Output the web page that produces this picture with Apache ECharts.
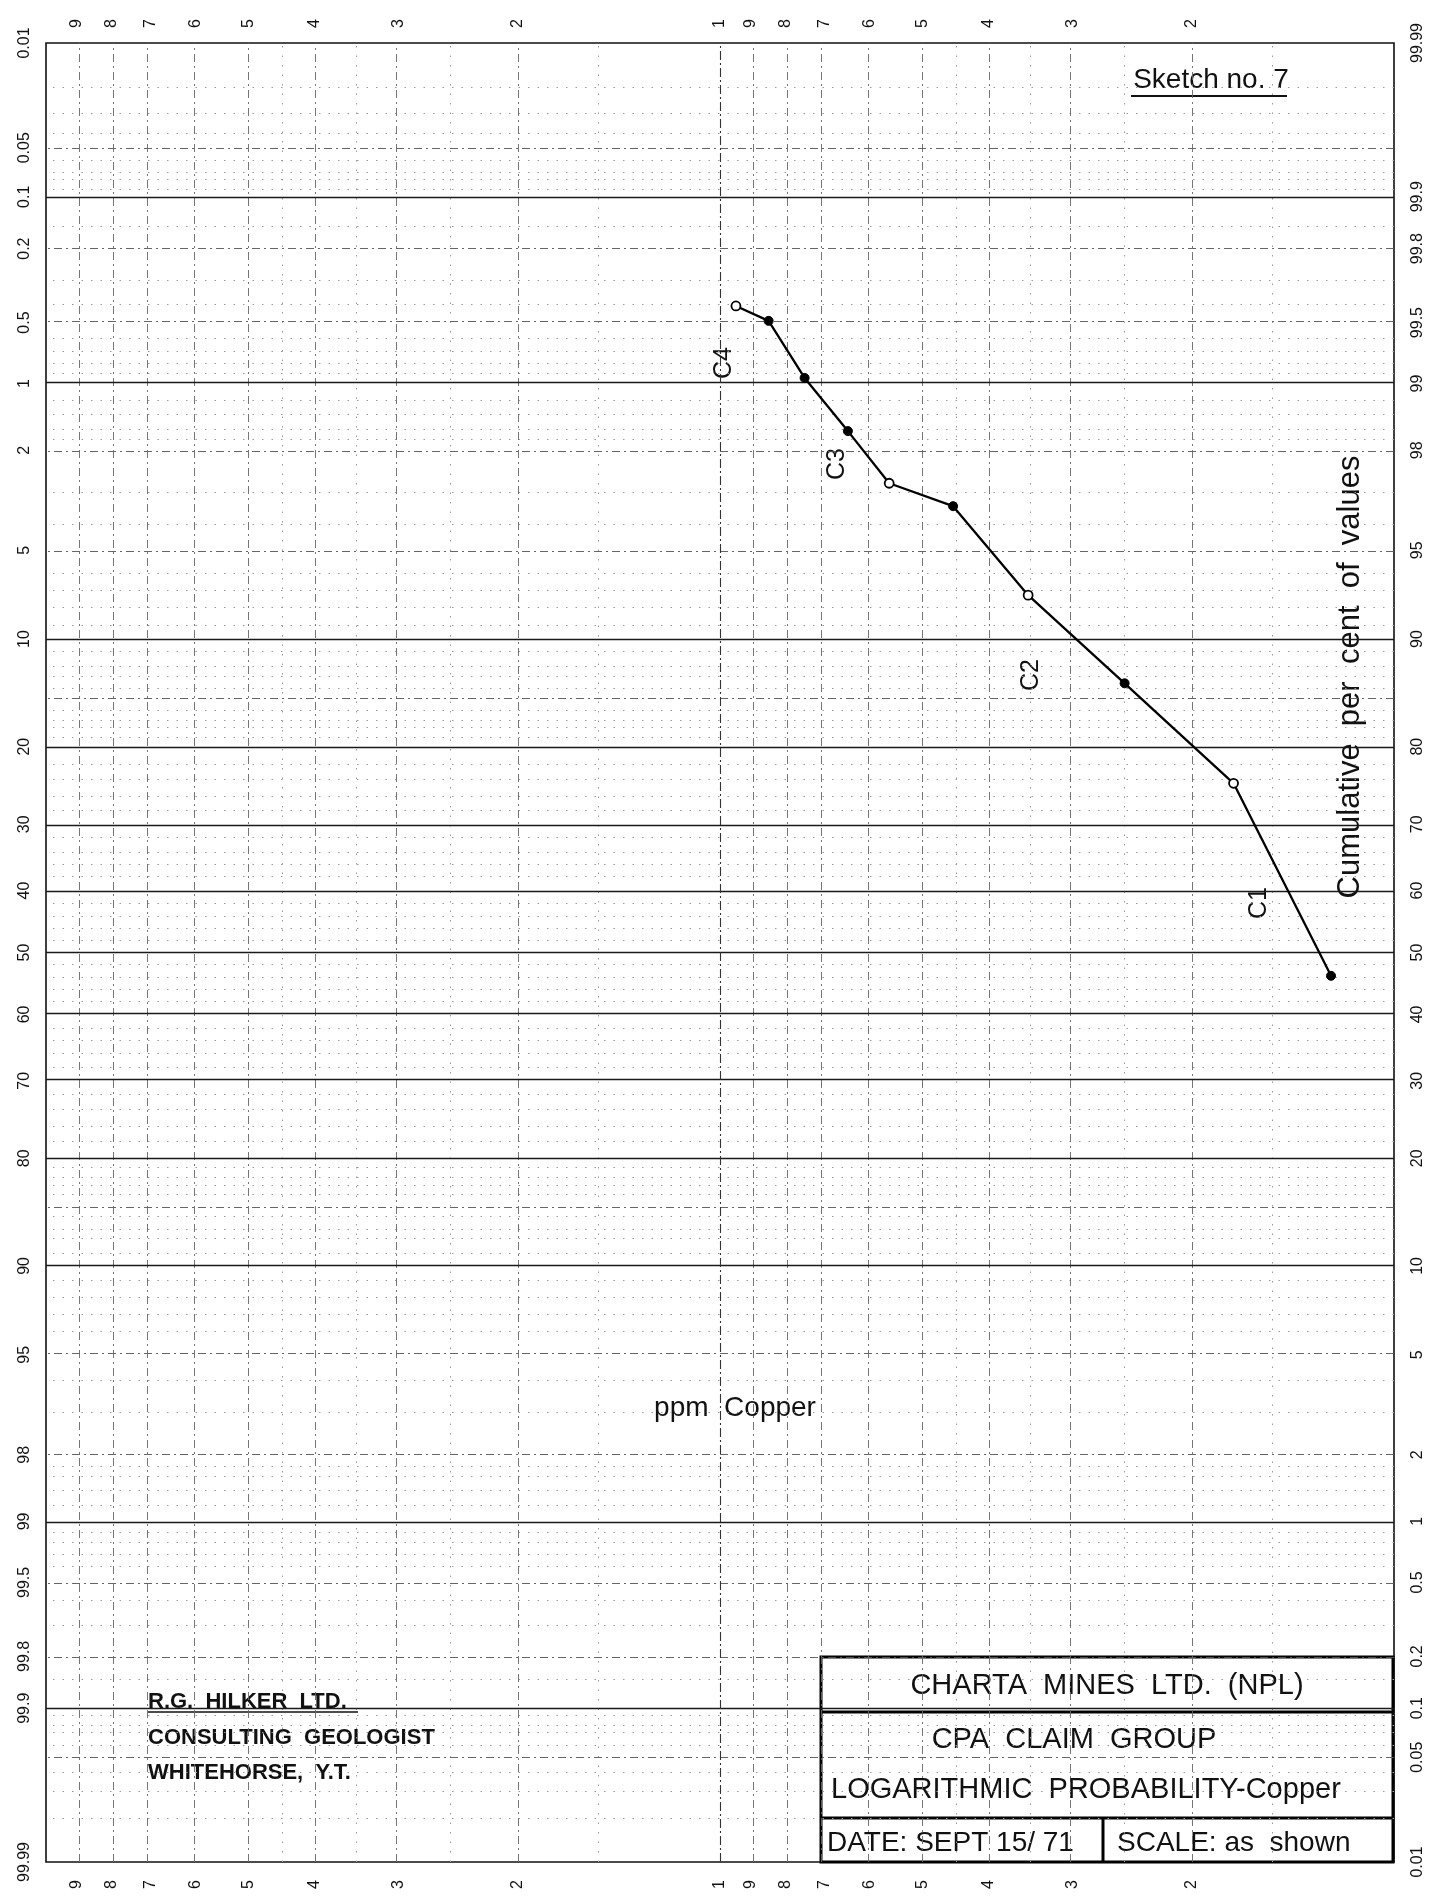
<!DOCTYPE html>
<html>
<head>
<meta charset="utf-8">
<script src="https://cdn.jsdelivr.net/npm/echarts@6/dist/echarts.min.js"></script>
<style>html,body{margin:0;padding:0;background:#fff}#c{width:1445px;height:1899px}</style>
</head>
<body>
<div id="c"></div>
<script>
// ---------------- DATA ----------------
// ppm Copper (log scale, two cycles 10 - 1000, decreasing to the right)
const ppm = [94.7, 84.7, 74.9, 64.6, 56.1, 45.1, 34.9, 25.1, 17.3, 12.4];
// Cumulative per cent of values (right-hand scale)
const cumPct = [99.59, 99.51, 99.06, 98.35, 97.25, 96.6, 92.8, 86.45, 75.55, 46.2];
// points drawn hollow
const hollowPoints = [0, 4, 6, 8];

// tick labels
const xTickValues = [900, 800, 700, 600, 500, 400, 300, 200, 100, 90, 80, 70, 60, 50, 40, 30, 20];
const yLeftLabels = [0.01, 0.05, 0.1, 0.2, 0.5, 1, 2, 5, 10, 20, 30, 40, 50, 60, 70, 80, 90, 95, 98, 99, 99.5, 99.8, 99.9, 99.99];
const yRightLabels = [99.99, 99.9, 99.8, 99.5, 99, 98, 95, 90, 80, 70, 60, 50, 40, 30, 20, 10, 5, 2, 1, 0.5, 0.2, 0.1, 0.05, 0.01];

// grid rulings (left-hand scale per cent, ppm)
const hSolid = [0.1, 1, 10, 20, 30, 40, 50, 60, 70, 80, 90, 99, 99.9];
const hDashDot = [0.05, 0.2, 0.5, 2, 5, 15, 85, 95, 98, 99.5, 99.8, 99.95];
const hDotted = [0.02, 0.03, 0.04, 0.06, 0.07, 0.08, 0.09, 0.15, 0.3, 0.4, 0.6, 0.7, 0.8, 0.9, 1.2, 1.4, 1.6, 1.8, 3, 4, 6, 7, 8, 9,
  11, 12, 13, 14, 16, 17, 18, 19, 22, 24, 26, 28, 32, 34, 36, 38, 42, 44, 46, 48, 52, 54, 56, 58, 62, 64, 66, 68, 72, 74, 76, 78,
  81, 82, 83, 84, 86, 87, 88, 89, 91, 92, 93, 94, 96, 97, 98.2, 98.4, 98.6, 98.8, 99.1, 99.2, 99.3, 99.4, 99.6, 99.7, 99.85,
  99.91, 99.92, 99.93, 99.94, 99.96, 99.97, 99.98];
const vMain = [100];
const vDashDot = [900, 800, 700, 600, 500, 400, 300, 200, 90, 80, 70, 60, 50, 40, 30, 20];
const vDotted = [450, 350, 250, 150, 45, 35, 25, 15];

// ---------------- helpers ----------------
function probit(p) {
  const a = [-3.969683028665376e+01, 2.209460984245205e+02, -2.759285104469687e+02, 1.383577518672690e+02, -3.066479806614716e+01, 2.506628277459239e+00];
  const b = [-5.447609879822406e+01, 1.615858368580409e+02, -1.556989798598866e+02, 6.680131188771972e+01, -1.328068155288572e+01];
  const c = [-7.784894002430293e-03, -3.223964580411365e-01, -2.400758277161838e+00, -2.549732539343734e+00, 4.374664141464968e+00, 2.938163982698783e+00];
  const d = [7.784695709041462e-03, 3.224671290700398e-01, 2.445134137142996e+00, 3.754408661907416e+00];
  const pl = 0.02425;
  if (p < pl) {
    const q = Math.sqrt(-2 * Math.log(p));
    return (((((c[0] * q + c[1]) * q + c[2]) * q + c[3]) * q + c[4]) * q + c[5]) / ((((d[0] * q + d[1]) * q + d[2]) * q + d[3]) * q + 1);
  }
  const q = p - 0.5, r = q * q;
  return (((((a[0] * r + a[1]) * r + a[2]) * r + a[3]) * r + a[4]) * r + a[5]) * q / (((((b[0] * r + b[1]) * r + b[2]) * r + b[3]) * r + b[4]) * r + 1);
}
// z for a "right-hand" per cent (upwards positive)
function zR(P) {
  if (P <= 50) return probit(P / 100);
  const comp = Math.round((100 - P) * 1e6) / 1e6;
  return -probit(comp / 100);
}
const ZMAX = -probit(0.0001);
function clampZ(z) { return Math.max(-ZMAX, Math.min(ZMAX, z)); }
const zLeft = p => clampZ(-zR(p));      // left-hand per cent (from top)
const zRight = P => clampZ(zR(P));
const lg = v => Math.log10(v);

const FONT = "'Liberation Sans', Arial, sans-serif";
const leftZ = yLeftLabels.map(zLeft);
const rightZ = yRightLabels.map(zRight);
const xVals = xTickValues.map(lg);

function digit(v) {
  const val = Math.pow(10, v);
  return String(Math.round(val / Math.pow(10, Math.floor(v + 1e-9))));
}
function lookup(zs, labels) {
  return function (v) {
    for (let i = 0; i < zs.length; i++) if (Math.abs(zs[i] - v) < 1e-6) return String(labels[i]);
    return '';
  };
}

const solidStyle = { color: '#1a1a1a', width: 1.3, type: 'solid' };
const dashDotStyle = { color: '#555', width: 0.9, type: [8, 4, 2, 4] };
const dottedStyle = { color: '#9a9a9a', width: 1, type: [1.5, 8] };
const vDashStyle = { color: '#666', width: 0.9, type: [8, 4, 2, 4] };
const mainVStyle = { color: '#333', width: 1.1, type: [9, 3, 2, 3] };

const gridLines = []
  .concat(hDotted.map(p => ({ yAxis: zLeft(p), lineStyle: dottedStyle })))
  .concat(vDotted.map(v => ({ xAxis: lg(v), lineStyle: dottedStyle })))
  .concat(hDashDot.map(p => ({ yAxis: zLeft(p), lineStyle: dashDotStyle })))
  .concat(vDashDot.map(v => ({ xAxis: lg(v), lineStyle: vDashStyle })))
  .concat(hSolid.map(p => ({ yAxis: zLeft(p), lineStyle: solidStyle })))
  .concat(vMain.map(v => ({ xAxis: lg(v), lineStyle: mainVStyle })));

const points = ppm.map((v, i) => {
  const item = { value: [lg(v), zRight(cumPct[i])] };
  if (hollowPoints.indexOf(i) >= 0) item.itemStyle = { color: '#fff', borderColor: '#000', borderWidth: 1.8 };
  return item;
});

const axisLabelBase = { rotate: 90, fontSize: 16, color: '#111', fontFamily: FONT };
const xAxisBase = {
  type: 'value', min: 1, max: 3, inverse: true,
  axisLine: { show: false }, axisTick: { show: false }, splitLine: { show: false }
};
const yAxisBase = {
  type: 'value', min: -ZMAX, max: ZMAX,
  axisLine: { show: false }, axisTick: { show: false }, splitLine: { show: false }
};

const chart = echarts.init(document.getElementById('c'), null, { renderer: 'canvas' });

const textStyle = (size, extra) => Object.assign({ fontSize: size, fontFamily: FONT, fill: '#111' }, extra || {});

chart.setOption({
  animation: false,
  backgroundColor: '#fff',
  grid: { left: 46, right: 51, top: 43, bottom: 37, show: true, borderColor: '#111', borderWidth: 1.6, containLabel: false },
  xAxis: [
    Object.assign({}, xAxisBase, { position: 'top', axisLabel: Object.assign({}, axisLabelBase, { customValues: xVals, formatter: digit, margin: 15 }) }),
    Object.assign({}, xAxisBase, { position: 'bottom', axisLabel: Object.assign({}, axisLabelBase, { customValues: xVals, formatter: digit, margin: 18 }) })
  ],
  yAxis: [
    Object.assign({}, yAxisBase, { position: 'left', axisLabel: Object.assign({}, axisLabelBase, { customValues: leftZ, formatter: lookup(leftZ, yLeftLabels), margin: 13 }) }),
    Object.assign({}, yAxisBase, { position: 'right', axisLabel: Object.assign({}, axisLabelBase, { customValues: rightZ, formatter: lookup(rightZ, yRightLabels), margin: 16 }) })
  ],
  series: [
    {
      type: 'line', name: 'grid', data: [], xAxisIndex: 0, yAxisIndex: 0, silent: true, z: 1,
      markLine: { silent: true, symbol: ['none', 'none'], label: { show: false }, animation: false, emphasis: { disabled: true }, data: gridLines }
    },
    {
      type: 'line', name: 'ppm Copper', xAxisIndex: 0, yAxisIndex: 0, z: 5,
      data: points, symbol: 'circle', symbolSize: 9, showAllSymbol: true,
      lineStyle: { color: '#000', width: 2.3 }, itemStyle: { color: '#000', borderColor: '#000' },
      emphasis: { disabled: true }
    }
  ],
  graphic: [
    { type: 'text', x: 1211, y: 80, style: textStyle(28, { text: 'Sketch no. 7', textAlign: 'center', textVerticalAlign: 'middle' }) },
    { type: 'line', shape: { x1: 1131, y1: 96, x2: 1287, y2: 96 }, style: { stroke: '#111', lineWidth: 2 } },
    { type: 'text', x: 724, y: 363, rotation: Math.PI / 2, style: textStyle(25, { text: 'C4', textAlign: 'center', textVerticalAlign: 'middle' }) },
    { type: 'text', x: 837, y: 464, rotation: Math.PI / 2, style: textStyle(25, { text: 'C3', textAlign: 'center', textVerticalAlign: 'middle' }) },
    { type: 'text', x: 1031, y: 675, rotation: Math.PI / 2, style: textStyle(25, { text: 'C2', textAlign: 'center', textVerticalAlign: 'middle' }) },
    { type: 'text', x: 1259, y: 903, rotation: Math.PI / 2, style: textStyle(25, { text: 'C1', textAlign: 'center', textVerticalAlign: 'middle' }) },
    { type: 'text', x: 1350, y: 677, rotation: Math.PI / 2, style: textStyle(31, { text: 'Cumulative  per  cent  of  values', textAlign: 'center', textVerticalAlign: 'middle' }) },
    { type: 'text', x: 735, y: 1408, style: textStyle(28, { text: 'ppm  Copper', textAlign: 'center', textVerticalAlign: 'middle' }) },
    { type: 'text', x: 148, y: 1702, style: textStyle(22, { text: 'R.G.  HILKER  LTD.', fontWeight: 'bold', textAlign: 'left', textVerticalAlign: 'middle' }) },
    { type: 'line', shape: { x1: 148, y1: 1712, x2: 358, y2: 1712 }, style: { stroke: '#111', lineWidth: 1.5 } },
    { type: 'text', x: 148, y: 1738, style: textStyle(22, { text: 'CONSULTING  GEOLOGIST', fontWeight: 'bold', textAlign: 'left', textVerticalAlign: 'middle' }) },
    { type: 'text', x: 148, y: 1773, style: textStyle(22, { text: 'WHITEHORSE,  Y.T.', fontWeight: 'bold', textAlign: 'left', textVerticalAlign: 'middle' }) },
    // title block
    { type: 'rect', shape: { x: 821, y: 1657, width: 572, height: 205 }, style: { fill: 'none', stroke: '#000', lineWidth: 3 } },
    { type: 'line', shape: { x1: 821, y1: 1712, x2: 1393, y2: 1712 }, style: { stroke: '#000', lineWidth: 3 } },
    { type: 'line', shape: { x1: 821, y1: 1818, x2: 1393, y2: 1818 }, style: { stroke: '#000', lineWidth: 3 } },
    { type: 'line', shape: { x1: 1103, y1: 1818, x2: 1103, y2: 1862 }, style: { stroke: '#000', lineWidth: 3 } },
    { type: 'text', x: 1107, y: 1686, style: textStyle(29, { text: 'CHARTA  MINES  LTD.  (NPL)', textAlign: 'center', textVerticalAlign: 'middle' }) },
    { type: 'text', x: 1074, y: 1740, style: textStyle(29, { text: 'CPA  CLAIM  GROUP', textAlign: 'center', textVerticalAlign: 'middle' }) },
    { type: 'text', x: 831, y: 1790, style: textStyle(29, { text: 'LOGARITHMIC  PROBABILITY-Copper', textAlign: 'left', textVerticalAlign: 'middle' }) },
    { type: 'text', x: 827, y: 1843, style: textStyle(28, { text: 'DATE: SEPT 15/ 71', textAlign: 'left', textVerticalAlign: 'middle' }) },
    { type: 'text', x: 1117, y: 1843, style: textStyle(28, { text: 'SCALE: as  shown', textAlign: 'left', textVerticalAlign: 'middle' }) }
  ]
});
</script>
</body>
</html>
